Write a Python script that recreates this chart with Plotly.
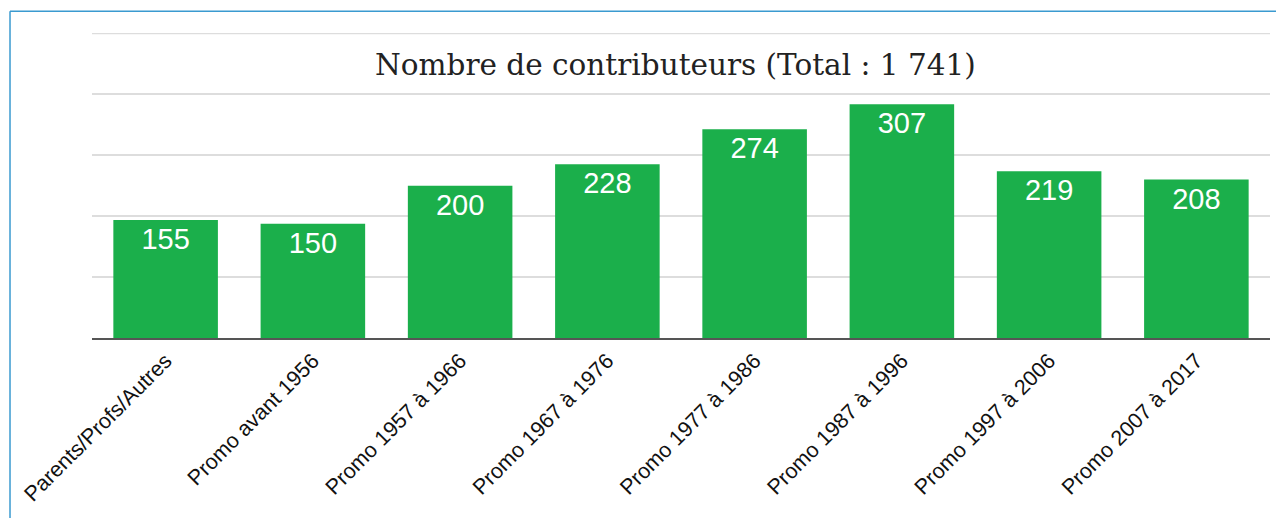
import plotly.graph_objects as go

categories = ["Parents/Profs/Autres", "Promo avant 1956", "Promo 1957 à 1966", "Promo 1967 à 1976",
              "Promo 1977 à 1986", "Promo 1987 à 1996", "Promo 1997 à 2006", "Promo 2007 à 2017"]
values = [155, 150, 200, 228, 274, 307, 219, 208]
title_text = "Nombre de contributeurs (Total : 1 741)"
y_max = 400

fig = go.Figure(go.Bar(
    x=categories, y=values,
    marker=dict(color="#1baf4b", line=dict(width=0)),
    text=[str(v) for v in values],
    textposition="inside", insidetextanchor="end",
    textfont=dict(family="Liberation Sans, Arial, sans-serif", size=29, color="white"),
    textangle=0,
))

fig.update_layout(
    width=1276, height=510,
    margin=dict(l=84, r=14, t=25, b=178),
    paper_bgcolor="white", plot_bgcolor="white",
    showlegend=False, bargap=0.29,
    xaxis=dict(showgrid=False, tickangle=-45, showline=True, linecolor="#555555", linewidth=1.5,
               tickfont=dict(family="Liberation Sans, Arial, sans-serif", size=21.5, color="#111111")),
    yaxis=dict(range=[0, 400.5], dtick=80, showticklabels=False, showgrid=True,
               gridcolor="#dddddd", gridwidth=1.5, zeroline=False),
    annotations=[dict(text=title_text, xref="paper", yref="paper", x=0.495, y=0.896,
                      showarrow=False, xanchor="center", yanchor="middle",
                      font=dict(family="DejaVu Serif, Liberation Serif, serif", size=29.5, color="#222222"))],
    shapes=[
        dict(type="line", xref="paper", yref="y", x0=0, x1=1, y0=y_max, y1=y_max,
             line=dict(color="#dddddd", width=1.5), layer="below"),
        dict(type="line", xref="paper", yref="paper", x0=-0.0696, x1=-0.0696, y0=-0.6, y1=1.0717,
             line=dict(color="#3a9ad0", width=1.5)),
        dict(type="line", xref="paper", yref="paper", x0=-0.0696, x1=1.02, y0=1.0717, y1=1.0717,
             line=dict(color="#3a9ad0", width=1.5)),
    ],
)

fig.write_html("out.html")
